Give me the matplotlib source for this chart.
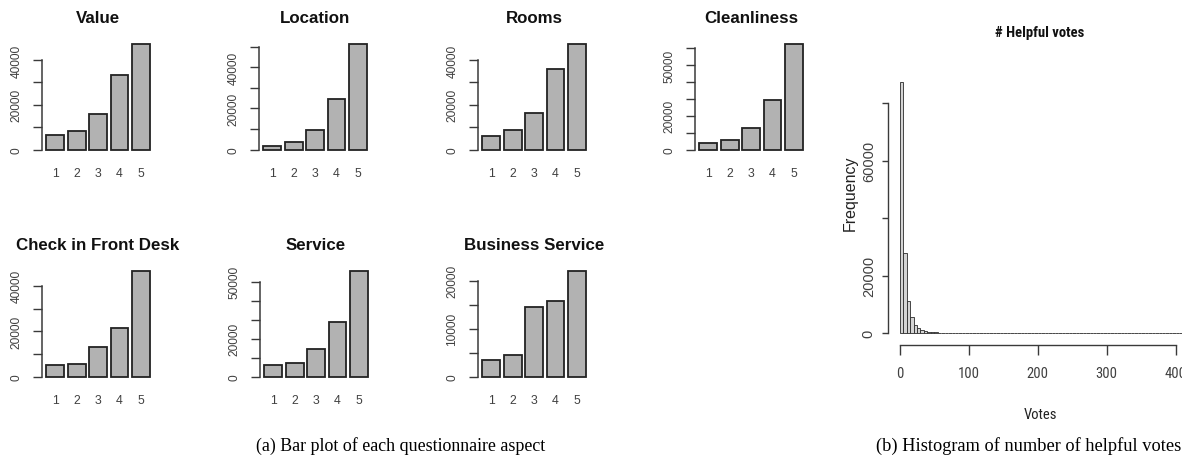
import numpy as np
import matplotlib
matplotlib.use("Agg")
import matplotlib.pyplot as plt

# 評価ごとの件数 (1〜5)
ratings = ["1", "2", "3", "4", "5"]
value_counts = [6700, 8500, 15900, 33300, 47200]
location_counts = [1800, 3700, 9700, 24500, 51300]
rooms_counts = [6000, 8700, 16200, 36200, 47200]
clean_counts = [3760, 5540, 12700, 29100, 62400]
checkin_counts = [5000, 5700, 13000, 21400, 46400]
service_counts = [6300, 7200, 14500, 28700, 55400]
business_counts = [3530, 4430, 14460, 15710, 21940]

titles = ["Value", "Location", "Rooms", "Cleanliness",
          "Check in Front Desk", "Service", "Business Service"]
all_counts = [value_counts, location_counts, rooms_counts, clean_counts,
              checkin_counts, service_counts, business_counts]

# y軸の目盛り (Rは重なるラベルを省略する)
yticks_list = [
    [0, 10000, 20000, 30000, 40000],
    [0, 10000, 20000, 30000, 40000, 50000],
    [0, 10000, 20000, 30000, 40000],
    [0, 10000, 20000, 30000, 40000, 50000, 60000],
    [0, 10000, 20000, 30000, 40000],
    [0, 10000, 20000, 30000, 40000, 50000],
    [0, 5000, 10000, 15000, 20000],
]
ylabels_list = [
    ["0", "", "20000", "", "40000"],
    ["0", "", "20000", "", "40000", ""],
    ["0", "", "20000", "", "40000"],
    ["0", "", "20000", "", "", "50000", ""],
    ["0", "", "20000", "", "40000"],
    ["0", "", "20000", "", "", "50000"],
    ["0", "", "10000", "", "20000"],
]

# helpful votes のヒストグラム (幅5の階級)
bin_width = 5
vote_counts = [87500, 27800, 11300, 5600, 3000, 1850, 1250, 880, 620, 450,
               330, 250, 190, 150, 115, 90, 72, 58, 46, 38,
               30, 26, 22, 18, 15, 13, 11, 10, 8, 7,
               6, 6, 5, 4, 4, 3, 3, 3, 2, 2,
               2, 2, 1, 1, 1, 1, 1, 1, 1, 0,
               1, 0, 1, 0, 0, 1, 0, 0, 0, 1,
               0, 0, 0, 0, 1, 0, 0, 0, 0, 0,
               0, 0, 1, 0, 0, 0, 0, 0, 0, 0,
               0, 0, 1]
hist_yticks = [0, 20000, 40000, 60000, 80000]
hist_ylabels = ["0", "20000", "", "60000", ""]
hist_xticks = [0, 100, 200, 300, 400]

W, H = 1182, 464
plt.rcParams["font.family"] = ["Liberation Sans", "DejaVu Sans"]
fig = plt.figure(figsize=(W / 100, H / 100), dpi=100)

def px_axes(left, top, right, bottom):
    return fig.add_axes([left / W, 1 - bottom / H, (right - left) / W, (bottom - top) / H])

bar_fill = "#b2b2b2"
edge = "#222222"
axis_col = "#3a3a3a"
text_col = "#404040"

col_x = [42, 259, 478, 695, 42, 260, 478]
row_top = [40.8, 40.8, 40.8, 40.8, 268, 268, 268]
panel_h = 114
bar_unit = 17.9

for i, counts in enumerate(all_counts):
    left = col_x[i]
    top = row_top[i]
    # Rのbarplotと同じ配置: 幅1, 間隔0.2, 4%の余白
    xmax = 0.2 + 1.2 * (len(counts) - 1) + 1.0
    xlo = 0.2 - 0.04 * (xmax - 0.2)
    xhi = xmax + 0.04 * (xmax - 0.2)
    ax = px_axes(left, top, left + (xhi - xlo) * bar_unit, top + panel_h)
    centers = [0.7 + 1.2 * k for k in range(len(counts))]
    ax.bar(centers, counts, width=1.0, color=bar_fill, edgecolor=edge, linewidth=1.3)
    top_val = max(counts)
    ax.set_xlim(xlo, xhi)
    ax.set_ylim(-0.04 * top_val, 1.04 * top_val)
    for s in ["top", "right", "bottom"]:
        ax.spines[s].set_visible(False)
    ax.spines["left"].set_bounds(yticks_list[i][0], yticks_list[i][-1])
    ax.spines["left"].set_color(axis_col)
    ax.spines["left"].set_linewidth(1.1)
    ax.set_yticks(yticks_list[i], ylabels_list[i], rotation=90, va="center",
                  fontsize=8.6, color=text_col)
    ax.tick_params(axis="y", length=6.7, width=1.0, color=axis_col, pad=7.5)
    ax.set_xticks(centers, ratings, fontsize=8.8, color=text_col)
    ax.tick_params(axis="x", length=0, pad=9.5)
    ax.text(0.5, 1 + 22 / panel_h, titles[i], transform=ax.transAxes,
            ha="center", va="center", fontsize=12.2, fontweight="bold", color="#111111")
    ax.patch.set_visible(False)

# ヒストグラム (右端は切れている)
edges = np.arange(0, bin_width * (len(vote_counts) + 1), bin_width)
hx_lo, hx_hi = -0.04 * edges[-1], 1.04 * edges[-1]
hy_max = max(vote_counts)
hax = px_axes(888.3, 72.6, 888.3 + (hx_hi - hx_lo) * 0.69, 344.4)
hax.hist(edges[:-1], bins=edges, weights=vote_counts, color="#d4d4d4",
         edgecolor="#2a2a2a", linewidth=0.6)
hax.set_xlim(hx_lo, hx_hi)
hax.set_ylim(-0.04 * hy_max, 1.04 * hy_max)
for s in ["top", "right"]:
    hax.spines[s].set_visible(False)
hax.spines["left"].set_bounds(0, 80000)
hax.spines["bottom"].set_bounds(0, 400)
hax.spines["bottom"].set_position(("outward", 1))
for s in ["left", "bottom"]:
    hax.spines[s].set_color(axis_col)
    hax.spines[s].set_linewidth(1.0)
hax.set_yticks(hist_yticks, hist_ylabels, rotation=90, va="center",
               fontsize=10.5, color=text_col)
hax.tick_params(axis="y", length=4, width=1.0, color=axis_col, pad=5)
narrow = ["Roboto Condensed", "Archivo Narrow", "PT Sans Narrow", "Liberation Sans Narrow", "Liberation Sans"]
hax.set_xticks(hist_xticks, [str(t) for t in hist_xticks], fontsize=10.5,
               color=text_col, family=narrow)
hax.tick_params(axis="x", length=7, width=1.0, color=axis_col, pad=8.5)
hax.patch.set_visible(False)

fig.text(1040 / W, 1 - 33 / H, "# Helpful votes", ha="center", va="center",
         fontsize=10.5, fontweight="bold", family=narrow, color="#111111")
fig.text(1040 / W, 1 - 415 / H, "Votes", ha="center", va="center",
         fontsize=10.5, family=narrow, color="#222222")
fig.text(850 / W, 1 - 193 / H, "Frequency", ha="center", va="center",
         rotation=90, fontsize=11.5, color="#222222")

# キャプション
serif = ["Liberation Serif", "DejaVu Serif"]
fig.text(401 / W, 1 - 446 / H, "(a) Bar plot of each questionnaire aspect",
         ha="center", va="center", fontsize=12.9, family=serif)
fig.text(1028.5 / W, 1 - 446 / H, "(b) Histogram of number of helpful votes",
         ha="center", va="center", fontsize=13.2, family=serif)

fig.savefig("out.png", dpi=100)
